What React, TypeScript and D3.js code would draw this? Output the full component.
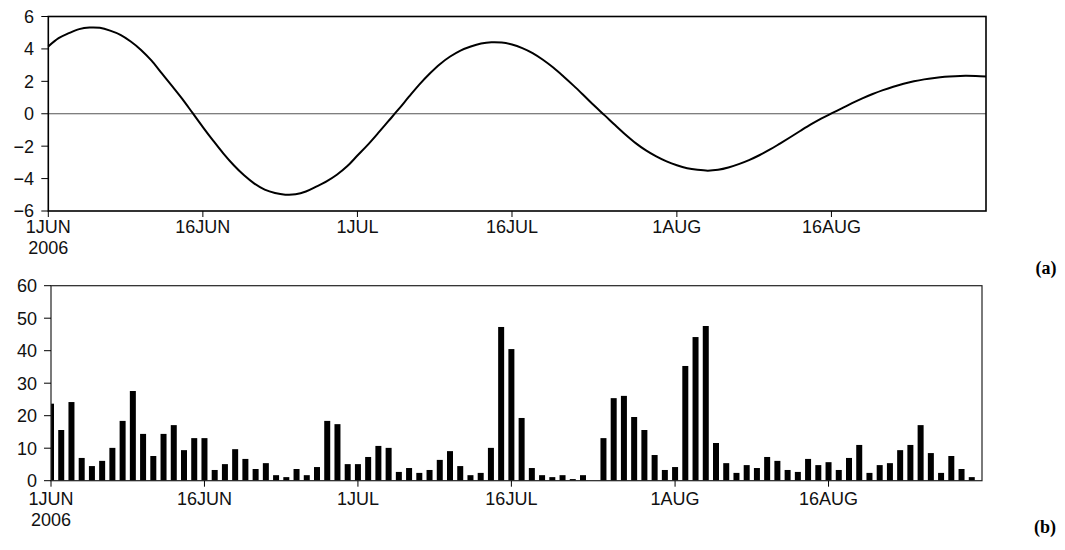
import React from 'react'
import * as d3 from 'd3'

const [W, H] = [1065, 550]

// panel (a): daily index, 1 Jun .. 31 Aug 2006
const indexValues = [
  4.15, 4.66, 4.97, 5.22, 5.32, 5.30, 5.13, 4.87, 4.46, 3.94,
  3.29, 2.50, 1.72, 0.92, 0.05, -0.82, -1.66, -2.46, -3.18, -3.80,
  -4.31, -4.68, -4.89, -4.99, -4.97, -4.80, -4.50, -4.17, -3.76, -3.24,
  -2.58, -1.92, -1.20, -0.46, 0.28, 1.05, 1.80, 2.47, 3.06, 3.53,
  3.90, 4.15, 4.33, 4.41, 4.39, 4.27, 4.05, 3.74, 3.33, 2.85,
  2.30, 1.72, 1.11, 0.49, -0.10, -0.70, -1.28, -1.81, -2.26, -2.63,
  -2.94, -3.18, -3.36, -3.46, -3.51, -3.46, -3.32, -3.11, -2.86, -2.56,
  -2.22, -1.84, -1.45, -1.05, -0.66, -0.30, 0.02, 0.33, 0.65, 0.95,
  1.22, 1.46, 1.67, 1.85, 2.00, 2.12, 2.21, 2.28, 2.32, 2.34,
  2.33, 2.30,
]

// panel (b): daily bars, 1 Jun .. 30 Aug 2006
const barsJun = [23.7, 15.6, 24.2, 7.0, 4.5, 6.1, 10.1, 18.4, 27.6, 14.4, 7.6, 14.4, 17.1, 9.4, 13.1, 13.1, 3.3, 5.1, 9.7, 6.7, 3.6, 5.4, 1.7, 1.1, 3.6, 1.7, 4.2, 18.4, 17.4, 5.1]
const barsJul = [5.1, 7.3, 10.7, 10.1, 2.7, 3.9, 2.4, 3.3, 6.4, 9.1, 4.5, 1.7, 2.4, 10.1, 47.3, 40.5, 19.3, 3.9, 1.7, 1.1, 1.7, 0.5, 1.7, 0, 13.1, 25.4, 26.1, 19.6, 15.6, 7.9, 3.3]
const barsAug = [4.2, 35.3, 44.2, 47.6, 11.6, 5.4, 2.4, 4.8, 3.9, 7.3, 6.1, 3.3, 2.7, 6.7, 4.8, 5.7, 3.3, 7.0, 11.0, 2.4, 4.8, 5.4, 9.4, 11.0, 17.1, 8.5, 2.4, 7.6, 3.6, 1.1]

const tickDates = ['2006-06-01', '2006-06-16', '2006-07-01', '2006-07-16', '2006-08-01', '2006-08-16']
const topYTicks = [-6, -4, -2, 0, 2, 4, 6]
const bottomYTicks = [0, 10, 20, 30, 40, 50, 60]

const start = new Date(Date.UTC(2006, 5, 1))
const end = new Date(Date.UTC(2006, 7, 31))
const day = (i: number) => d3.utcDay.offset(start, i)
const fmtTick = (d: Date) => d3.utcFormat('%-d')(d) + d3.utcFormat('%b')(d).toUpperCase()

const labelFont = '"Liberation Sans", Arial, sans-serif'

function XAxis({ x, y0, dy }: { x: d3.ScaleTime<number, number>, y0: number, dy: number }) {
  return (
    <g>
      {tickDates.map((s, i) => {
        const d = new Date(s + 'T00:00:00Z')
        const px = x(d)
        return (
          <g key={s}>
            <line x1={px} x2={px} y1={y0} y2={y0 + 6} stroke="#000" strokeWidth={1} />
            <text x={px} y={y0 + dy} textAnchor="middle" fontSize={18} fontFamily={labelFont} fill="#111">{fmtTick(d)}</text>
            {i === 0 && <text x={px} y={y0 + dy + 21} textAnchor="middle" fontSize={18} fontFamily={labelFont} fill="#111">2006</text>}
          </g>
        )
      })}
    </g>
  )
}

function YAxis({ y, x0, ticks, labelX }: { y: d3.ScaleLinear<number, number>, x0: number, ticks: number[], labelX: number }) {
  return (
    <g>
      {ticks.map(t => (
        <g key={t}>
          <line x1={x0 - 7} x2={x0} y1={y(t)} y2={y(t)} stroke="#000" strokeWidth={1} />
          <text x={labelX} y={y(t)} dy="0.36em" textAnchor="end" fontSize={18} fontFamily={labelFont} fill="#111">
            {t < 0 ? '\u2212' + Math.abs(t) : t}
          </text>
        </g>
      ))}
    </g>
  )
}

export default function App() {
  // panel (a)
  const xa = d3.scaleUtc().domain([start, end]).range([48.3, 986])
  const ya = d3.scaleLinear().domain([-6, 6]).range([211, 16.5])
  const linePath = d3.line<number>()
    .x((_, i) => xa(day(i)))
    .y(v => ya(v))
    .curve(d3.curveCatmullRom)(indexValues) || ''

  // panel (b)
  const bars = [...barsJun, ...barsJul, ...barsAug]
  const xb = d3.scaleUtc().domain([start, end]).range([51, 982])
  const yb = d3.scaleLinear().domain([0, 60]).range([480.7, 285.7])
  const barW = 6

  return (
    <svg width={W} height={H} style={{ position: 'absolute', left: 0, top: 0, background: '#fff' }}>
      <defs>
        <clipPath id="clipB">
          <rect x={51} y={285.7} width={931} height={195} />
        </clipPath>
      </defs>

      {/* (a) */}
      <line x1={48.3} x2={986} y1={ya(0)} y2={ya(0)} stroke="#555" strokeWidth={1} />
      <path d={linePath} fill="none" stroke="#000" strokeWidth={2} />
      <rect x={48.3} y={16.5} width={986 - 48.3} height={211 - 16.5} fill="none" stroke="#000" strokeWidth={1.6} />
      <YAxis y={ya} x0={48.3} ticks={topYTicks} labelX={34} />
      <XAxis x={xa} y0={211} dy={22} />
      <text x={1046} y={274} textAnchor="middle" fontSize={18} fontWeight="bold" fontFamily='"Liberation Serif", "Times New Roman", serif'>(a)</text>

      {/* (b) */}
      <g clipPath="url(#clipB)">
        {bars.map((v, i) => (
          <rect key={i} x={xb(day(i)) - barW / 2} y={yb(v)} width={barW} height={yb(0) - yb(v)} fill="#000" />
        ))}
      </g>
      <rect x={51} y={285.7} width={931} height={195} fill="none" stroke="#222" strokeWidth={1.2} />
      <YAxis y={yb} x0={51} ticks={bottomYTicks} labelX={37} />
      <XAxis x={xb} y0={480.7} dy={24} />
      <text x={1045} y={533} textAnchor="middle" fontSize={18} fontWeight="bold" fontFamily='"Liberation Serif", "Times New Roman", serif'>(b)</text>
    </svg>
  )
}
